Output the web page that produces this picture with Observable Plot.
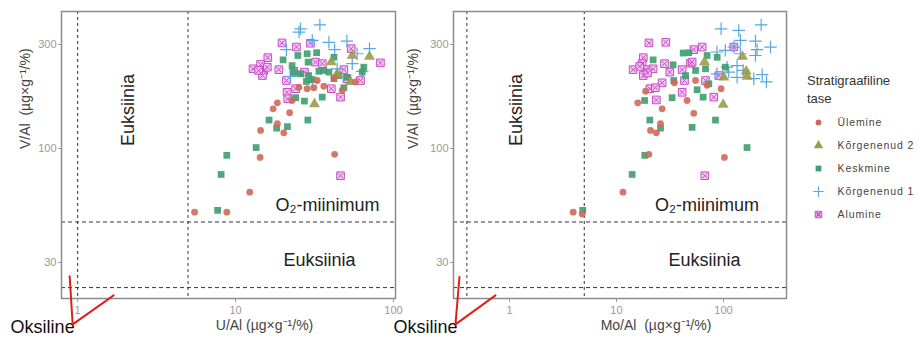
<!DOCTYPE html>
<html><head><meta charset="utf-8">
<script src="https://cdn.jsdelivr.net/npm/d3@7"></script>
<script src="https://cdn.jsdelivr.net/npm/@observablehq/plot@0.6"></script>
<style>
body{margin:0;background:#fff;font-family:"Liberation Sans",Arial,sans-serif;}
#wrap{position:relative;width:919px;height:338px;overflow:hidden;background:#fff;}
.panel{position:absolute;top:0;}
#legtitle{position:absolute;left:807px;top:72px;font-size:13px;line-height:18px;color:#333;}
#legend{position:absolute;left:800px;top:110px;}
</style></head><body>
<div id="wrap">
  <div class="panel" id="p1" style="left:0px"></div>
  <div class="panel" id="p2" style="left:390px"></div>
  <div id="legtitle">Stratigraafiline<br>tase</div>
  <div id="legend"></div>
</div>
<script>
// ---------- categories & tick labels ----------
const categories = ["Ülemine", "Kõrgenenud 2", "Keskmine", "Kõrgenenud 1", "Alumine"];
const yTicks = [30, 100, 300];
const uTicks = [1, 10, 100];
const moTicks = [1, 10, 100];
const yDomain = [20.5, 425];
const uDomain = [0.79, 103];
const moDomain = [0.30, 388];
const hLines = [46, 23];
const uVLines = [1, 5];
const moVLines = [0.4, 5];
const yLabel = "V/Al\u00a0\u00a0(µg×g⁻¹/%)";
const uLabel = "U/Al (µg×g⁻¹/%)";
const moLabel = "Mo/Al\u00a0\u00a0(µg×g⁻¹/%)";

// ---------- U/Al vs V/Al ----------
const U_ulemine = [[18.4,162],[17.3,152],[22.0,146],[18.4,130],[20.2,118],[14.4,121],[14.3,91],[42.4,94],[22.8,166],[32.9,205],[36.2,193],[31.3,190],[42.0,211],[47.4,185],[57.5,202],[25.2,191],[28.4,188],[12.3,63],[5.5,51],[8.8,51]];
const U_korg2 = [[40.4,249],[54.8,267],[70.5,264],[53.5,202],[31.6,160],[44.0,220]];
const U_keskmine = [[20.0,255],[24.8,267],[28.4,272],[32.6,275],[42.0,262],[28.8,249],[22.8,240],[23.4,224],[25.8,220],[33.7,226],[39.0,224],[45.1,216],[64.9,236],[63.4,224],[28.1,203],[30.6,207],[48.5,190],[24.0,171],[27.3,165],[35.4,172],[16.3,135],[28.7,135],[18.2,124],[21.3,126],[13.5,101],[8.8,93],[42.0,209],[36.2,228],[50.7,212],[29.0,216],[8.1,76],[7.7,52]];
const U_korg1 = [[25.8,354],[34.2,369],[30.6,313],[21.0,284],[39.0,307],[42.4,284],[50.7,311],[58.9,272],[70.5,287],[54.8,245],[63.4,226],[44.0,232],[22.3,214],[30.6,202],[25.2,342]];
const U_alumine = [[19.7,305],[24.3,292],[29.8,304],[54.0,287],[16.0,261],[12.9,232],[14.4,243],[15.1,228],[15.9,236],[14.8,216],[18.8,230],[21.0,205],[32.1,249],[35.4,245],[82.7,247],[48.5,230],[61.8,205],[21.2,181],[21.4,169],[24.0,188],[27.3,224],[40.4,188],[46.2,172],[23.4,226],[50.7,209],[46.2,75],[14.0,228]];

// ---------- Mo/Al vs V/Al ----------
const Mo_ulemine = [[18.7,183],[15.8,162],[26.7,152],[45.7,166],[52.8,145],[25.8,130],[20.8,121],[23.6,118],[20.1,94],[102,91],[34.8,200],[54.8,205],[70.3,195],[95,188],[11.5,63],[3.94,51],[4.78,50]];
const Mo_korg2 = [[66.4,249],[150,264],[163,226],[166,214],[100.7,212],[99.3,159]];
const Mo_keskmine = [[22.0,255],[33.8,242],[42.0,274],[47.4,275],[70.3,267],[87.3,262],[54.8,228],[67.9,232],[34.3,205],[44.2,216],[56.7,186],[33.1,171],[64.5,172],[18.3,166],[20.5,135],[25.8,124],[50.9,125],[84.2,135],[166,101],[18.4,93],[104,236],[72.9,198],[14.0,76],[4.84,52]];
const Mo_korg1 = [[95,354],[139,348],[225,369],[144,313],[199,311],[275,292],[206,284],[125,292],[104,282],[87,277],[144,272],[199,267],[134,240],[112,224],[153,228],[192,209],[230,218],[252,202],[134,212],[87,220],[108,236]];
const Mo_alumine = [[20.1,305],[28.9,307],[52.8,284],[63.2,292],[125,292],[17.8,261],[17.4,245],[14.3,230],[18.7,230],[22.0,232],[28.1,245],[31.5,224],[41.1,230],[49.2,246],[50.9,249],[26.7,200],[20.5,188],[23.1,190],[43.2,205],[41.1,181],[67.9,205],[81.2,172],[23.6,167],[90.4,216],[17.8,216],[66.9,75],[16.5,238],[19.5,222]];

// ---------- annotations (data coordinates) ----------
const regionText = ["Euksiinia", "O₂-miinimum", "Euksiinia", "Oksiline"];
const U_textPos = [[2.09,150],[38.2,54.8],[34.0,30.8],[0.60,15.2]];
const Mo_textPos = [[1.15,150],[70.1,54.8],[66.4,30.8],[0.164,15.2]];
const U_redPath = [[0.89,25.9],[0.93,15.6],[1.69,21.2]];
const Mo_redPath = [[0.341,25.7],[0.313,15.6],[0.740,21.2]];

// ---------- styles ----------
const styles = {
  "Ülemine":      {symbol:"circle",   r:3.4, fill:"#d0685a", stroke:"none"},
  "Kõrgenenud 2": {symbol:"triangle", r:4.1, fill:"#9d9a4c", stroke:"none"},
  "Keskmine":     {symbol:"square",   r:3.8, fill:"#3c9e6e", stroke:"none"},
  "Kõrgenenud 1": {symbol:"plus",     r:4.1, fill:"none", stroke:"#58a8e4", strokeWidth:1.2},
  "Alumine":      {symbol:"square",   r:4.3, fill:"#f3c8f3", stroke:"#c84ac8", strokeWidth:1}
};
const FONT = "'Liberation Sans', Arial, sans-serif";
const X = d => d[0], Y = d => d[1];

function seriesMarks(s) {
  return [
    Plot.dot(s["Alumine"], {x:X, y:Y, ...styles["Alumine"], fillOpacity:0.9}),
    Plot.dot(s["Alumine"], {x:X, y:Y, symbol:"times", r:2.5, stroke:"#c84ac8", strokeWidth:1}),
    Plot.dot(s["Kõrgenenud 1"], {x:X, y:Y, ...styles["Kõrgenenud 1"]}),
    Plot.dot(s["Keskmine"], {x:X, y:Y, ...styles["Keskmine"], fillOpacity:0.9}),
    Plot.dot(s["Kõrgenenud 2"], {x:X, y:Y, ...styles["Kõrgenenud 2"], fillOpacity:0.9}),
    Plot.dot(s["Ülemine"], {x:X, y:Y, ...styles["Ülemine"], fillOpacity:0.9})
  ];
}

function makePanel(o) {
  const tp = o.textPos;
  return Plot.plot({
    width: 400, height: 338,
    marginLeft: o.ml, marginRight: o.mr, marginTop: 11, marginBottom: 40,
    style: {background: "transparent", overflow: "visible", fontFamily: FONT},
    x: {type: "log", domain: o.xDomain},
    y: {type: "log", domain: yDomain},
    marks: [
      Plot.ruleY(hLines, {y: d => d, stroke: "#333", strokeWidth: 1, strokeDasharray: "4,3"}),
      Plot.ruleX(o.vLines, {x: d => d, stroke: "#333", strokeWidth: 1, strokeDasharray: "3,3"}),
      Plot.frame({stroke: "#8c8c8c", strokeWidth: 1.5}),
      Plot.axisX({ticks: o.xTicks, tickFormat: d => String(d), tickSize: 4, tickPadding: 4, color: "#999", fontSize: 11, label: null}),
      Plot.axisY({ticks: yTicks, tickFormat: d => String(d), tickSize: 3, tickPadding: 2, color: "#999", fontSize: 11, label: null}),
      ...seriesMarks(o.series),
      Plot.text([regionText[0]], {x: () => tp[0][0], y: () => tp[0][1], text: d => d, rotate: -90, fontSize: 18, fill: "#222"}),
      Plot.text([regionText[1]], {x: () => tp[1][0], y: () => tp[1][1], text: d => d, fontSize: 18, fill: "#222"}),
      Plot.text([regionText[2]], {x: () => tp[2][0], y: () => tp[2][1], text: d => d, fontSize: 18, fill: "#222"}),
      Plot.text([regionText[3]], {x: () => tp[3][0], y: () => tp[3][1], text: d => d, fontSize: 18, fill: "#111"}),
      Plot.line(o.redPath, {x: X, y: Y, stroke: "#e0201b", strokeWidth: 2}),
      Plot.text([o.xLabel], {frameAnchor: "bottom", dx: 36, dy: 31, text: d => d, fontSize: 14, fill: "#444"}),
      Plot.text([yLabel], {frameAnchor: "left", rotate: -90, dx: o.yLabelDx, dy: -6, text: d => d, fontSize: 14, fill: "#444"})
    ]
  });
}

document.getElementById("p1").append(makePanel({
  ml: 61, mr: 5, xDomain: uDomain, xTicks: uTicks, vLines: uVLines, xLabel: uLabel, yLabelDx: -36,
  textPos: U_textPos, redPath: U_redPath,
  series: {"Ülemine": U_ulemine, "Kõrgenenud 2": U_korg2, "Keskmine": U_keskmine, "Kõrgenenud 1": U_korg1, "Alumine": U_alumine}
}));
document.getElementById("p2").append(makePanel({
  ml: 63, mr: 4, xDomain: moDomain, xTicks: moTicks, vLines: moVLines, xLabel: moLabel, yLabelDx: -40,
  textPos: Mo_textPos, redPath: Mo_redPath,
  series: {"Ülemine": Mo_ulemine, "Kõrgenenud 2": Mo_korg2, "Keskmine": Mo_keskmine, "Kõrgenenud 1": Mo_korg1, "Alumine": Mo_alumine}
}));

// ---------- legend ----------
const legendMarks = [];
for (const c of categories) {
  legendMarks.push(Plot.dot([c], {y: d => d, frameAnchor: "left", dx: 18, ...styles[c], r: styles[c].r * 0.85}));
  if (c === "Alumine") legendMarks.push(Plot.dot([c], {y: d => d, frameAnchor: "left", dx: 18, symbol: "times", r: 2.1, stroke: "#c84ac8"}));
}
legendMarks.push(Plot.text(categories, {y: d => d, text: d => d, frameAnchor: "left", dx: 37, textAnchor: "start", fontSize: 10.5, fill: "#444"}));
document.getElementById("legend").append(Plot.plot({
  width: 119, height: 116, marginTop: 12, marginBottom: 12, marginLeft: 0, marginRight: 0,
  style: {background: "transparent", overflow: "visible", fontFamily: FONT, letterSpacing: "0.9px"},
  x: {axis: null, domain: [0, 1]},
  y: {type: "point", domain: categories, padding: 0, axis: null},
  marks: legendMarks
}));
</script>
</body></html>
